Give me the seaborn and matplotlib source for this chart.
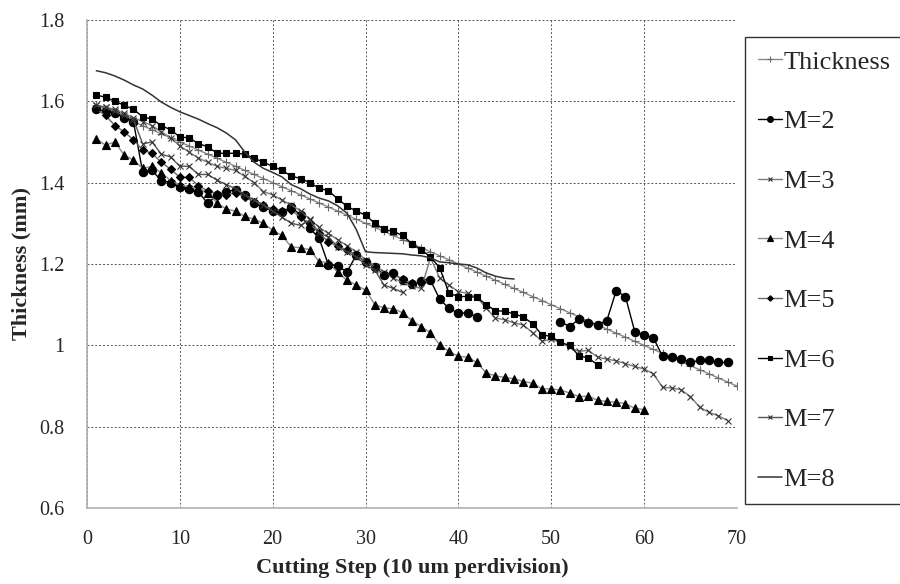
import matplotlib
matplotlib.use("Agg")
import matplotlib.pyplot as plt
import seaborn as sns

# cutting steps
steps_thk = list(range(1, 71))
thickness = [1.59, 1.58, 1.57, 1.56, 1.55, 1.54, 1.53, 1.52, 1.51, 1.50,
             1.49, 1.48, 1.47, 1.46, 1.45, 1.44, 1.43, 1.42, 1.41, 1.40,
             1.39, 1.38, 1.37, 1.36, 1.35, 1.34, 1.33, 1.32, 1.31, 1.30,
             1.29, 1.28, 1.27, 1.26, 1.25, 1.24, 1.23, 1.22, 1.21, 1.20,
             1.19, 1.18, 1.17, 1.16, 1.15, 1.14, 1.13, 1.12, 1.11, 1.10,
             1.09, 1.08, 1.07, 1.06, 1.05, 1.04, 1.03, 1.02, 1.01, 1.00,
             0.99, 0.98, 0.97, 0.96, 0.95, 0.94, 0.93, 0.92, 0.91, 0.90]

# M=2 has a gap between step 42 and 51
steps_m2a = list(range(1, 43))
m2a = [1.58, 1.575, 1.57, 1.56, 1.55, 1.425, 1.43, 1.405, 1.40, 1.39,
       1.385, 1.377, 1.349, 1.369, 1.377, 1.383, 1.37, 1.349, 1.34, 1.33,
       1.328, 1.34, 1.32, 1.288, 1.263, 1.198, 1.196, 1.18, 1.222, 1.205,
       1.193, 1.173, 1.178, 1.16, 1.15, 1.157, 1.16, 1.113, 1.091, 1.079,
       1.08, 1.07]
steps_m2b = list(range(51, 70))
m2b = [1.058, 1.046, 1.065, 1.055, 1.051, 1.061, 1.134, 1.12, 1.034, 1.026,
       1.019, 0.973, 0.972, 0.966, 0.958, 0.963, 0.963, 0.958, 0.958]

steps_m3 = list(range(1, 70))
m3 = [1.59, 1.585, 1.58, 1.57, 1.56, 1.55, 1.54, 1.525, 1.51, 1.49,
      1.475, 1.46, 1.45, 1.44, 1.435, 1.43, 1.415, 1.40, 1.378, 1.37,
      1.357, 1.345, 1.33, 1.31, 1.29, 1.275, 1.26, 1.245, 1.23, 1.21,
      1.195, 1.18, 1.165, 1.155, 1.145, 1.14, 1.215, 1.165, 1.148, 1.132,
      1.128, 1.118, 1.091, 1.067, 1.063, 1.055, 1.05, 1.031, 1.01, 1.015,
      1.007, 0.995, 0.985, 0.988, 0.971, 0.966, 0.962, 0.955, 0.948, 0.942,
      0.93, 0.897, 0.895, 0.891, 0.874, 0.848, 0.835, 0.827, 0.815]

steps_m4 = list(range(1, 61))
m4 = [1.507, 1.492, 1.50, 1.468, 1.455, 1.435, 1.44, 1.424, 1.405, 1.394,
      1.39, 1.385, 1.375, 1.35, 1.335, 1.33, 1.317, 1.31, 1.30, 1.283,
      1.27, 1.242, 1.24, 1.235, 1.206, 1.203, 1.18, 1.16, 1.148, 1.136,
      1.10, 1.092, 1.09, 1.08, 1.061, 1.046, 1.031, 1.001, 0.985, 0.973,
      0.971, 0.958, 0.932, 0.925, 0.921, 0.918, 0.911, 0.907, 0.893, 0.893,
      0.89, 0.883, 0.874, 0.875, 0.865, 0.862, 0.86, 0.857, 0.845, 0.842]

steps_m5 = list(range(1, 38))
m5 = [1.58, 1.565, 1.54, 1.525, 1.505, 1.48, 1.472, 1.45, 1.433, 1.413,
      1.413, 1.392, 1.38, 1.372, 1.37, 1.375, 1.365, 1.352, 1.345, 1.335,
      1.33, 1.332, 1.315, 1.30, 1.275, 1.255, 1.243, 1.235, 1.222, 1.205,
      1.19, 1.172, 1.175, 1.162, 1.152, 1.156, 1.16]

steps_m6 = list(range(1, 56))
m6 = [1.615, 1.61, 1.60, 1.59, 1.58, 1.562, 1.556, 1.54, 1.53, 1.512,
      1.51, 1.496, 1.488, 1.472, 1.472, 1.472, 1.47, 1.46, 1.45, 1.44,
      1.43, 1.416, 1.41, 1.40, 1.386, 1.38, 1.36, 1.342, 1.33, 1.32,
      1.30, 1.285, 1.28, 1.27, 1.25, 1.234, 1.218, 1.19, 1.128, 1.12,
      1.12, 1.118, 1.10, 1.085, 1.084, 1.077, 1.07, 1.053, 1.026, 1.022,
      1.007, 1.0, 0.974, 0.969, 0.952]

steps_m7 = list(range(1, 35))
m7 = [1.59, 1.585, 1.575, 1.565, 1.555, 1.495, 1.50, 1.47, 1.463, 1.44,
      1.44, 1.42, 1.42, 1.406, 1.395, 1.385, 1.37, 1.357, 1.345, 1.33,
      1.315, 1.30, 1.295, 1.308, 1.276, 1.267, 1.242, 1.23, 1.218, 1.198,
      1.185, 1.148, 1.14, 1.13]

steps_m8 = list(range(1, 47))
m8 = [1.675, 1.67, 1.662, 1.652, 1.64, 1.63, 1.615, 1.598, 1.585, 1.574,
      1.565, 1.556, 1.545, 1.535, 1.522, 1.505, 1.475, 1.45, 1.435, 1.425,
      1.414, 1.395, 1.385, 1.372, 1.362, 1.355, 1.343, 1.325, 1.285, 1.23,
      1.228, 1.227, 1.226, 1.225, 1.222, 1.22, 1.215, 1.205, 1.203, 1.2,
      1.198, 1.19, 1.178, 1.17, 1.165, 1.163]

sns.set_style("white")
plt.rcParams["font.family"] = ["Liberation Serif", "DejaVu Serif"]

fig = plt.figure(figsize=(9, 5.84), dpi=100)
ax = fig.add_axes([0.0967, 0.130, 0.722, 0.836])

kw = dict(ax=ax, linewidth=1.0, markeredgewidth=0.8)
sns.lineplot(x=steps_thk, y=thickness, color="#8a8a8a", marker="+",
             markersize=6, markeredgecolor="#6a6a6a", label="Thickness", **kw)
sns.lineplot(x=steps_m2a, y=m2a, color="black", marker="o", markersize=6,
             markeredgecolor="black", label="M=2", **kw)
sns.lineplot(x=steps_m2b, y=m2b, color="black", marker="o", markersize=6,
             markeredgecolor="black", **kw)
sns.lineplot(x=steps_m3, y=m3, color="#7a7a7a", marker="x", markersize=5,
             markeredgecolor="#333333", label="M=3", **kw)
sns.lineplot(x=steps_m4, y=m4, color="#8a8a8a", marker="^", markersize=5.5,
             markeredgecolor="black", markerfacecolor="black", label="M=4", **kw)
sns.lineplot(x=steps_m5, y=m5, color="#6a6a6a", marker="D", markersize=4,
             markeredgecolor="black", markerfacecolor="black", label="M=5", **kw)
sns.lineplot(x=steps_m6, y=m6, color="black", marker="s", markersize=5,
             markeredgecolor="black", label="M=6", **kw)
sns.lineplot(x=steps_m7, y=m7, color="#555555", marker="x", markersize=5,
             markeredgecolor="#333333", label="M=7", **kw)
sns.lineplot(x=steps_m8, y=m8, color="#333333", linewidth=1.1, label="M=8", ax=ax)

ax.set_xlim(0, 70)
ax.set_ylim(0.6, 1.8)
ax.set_xticks(range(0, 71, 10))
ax.set_yticks([0.6, 0.8, 1.0, 1.2, 1.4, 1.6, 1.8])
ax.set_yticklabels(["0.6", "0.8", "1", "1.2", "1.4", "1.6", "1.8"])
ax.tick_params(labelsize=14.5, length=0)
ax.tick_params(axis="x", pad=16)
ax.tick_params(axis="y", pad=16)
ax.grid(True, linestyle=(0, (2, 2)), color="#555555", linewidth=0.7)

for side in ["top", "right"]:
    ax.spines[side].set_visible(False)
for side in ["left", "bottom"]:
    ax.spines[side].set_color("#b0b0b0")
    ax.spines[side].set_linewidth(1.2)

ax.set_xlabel("Cutting Step (10 um perdivision)", fontsize=16,
              fontweight="bold", labelpad=6)
ax.set_ylabel("Thickness (mm)", fontsize=16, fontweight="bold", labelpad=6)

handles, labels = ax.get_legend_handles_labels()
if ax.get_legend() is not None:
    ax.get_legend().remove()
leg = fig.legend(handles, labels, loc="upper left",
                 bbox_to_anchor=(745 / 900, 1 - 37 / 584),
                 bbox_transform=fig.transFigure, borderaxespad=0,
                 fontsize=19, frameon=True, fancybox=False,
                 edgecolor="black", labelspacing=1.37, handlelength=0.9,
                 handletextpad=0.05, borderpad=0.5, markerscale=0.7)
leg.get_frame().set_linewidth(1.0)

fig.savefig("out.png", dpi=100)
